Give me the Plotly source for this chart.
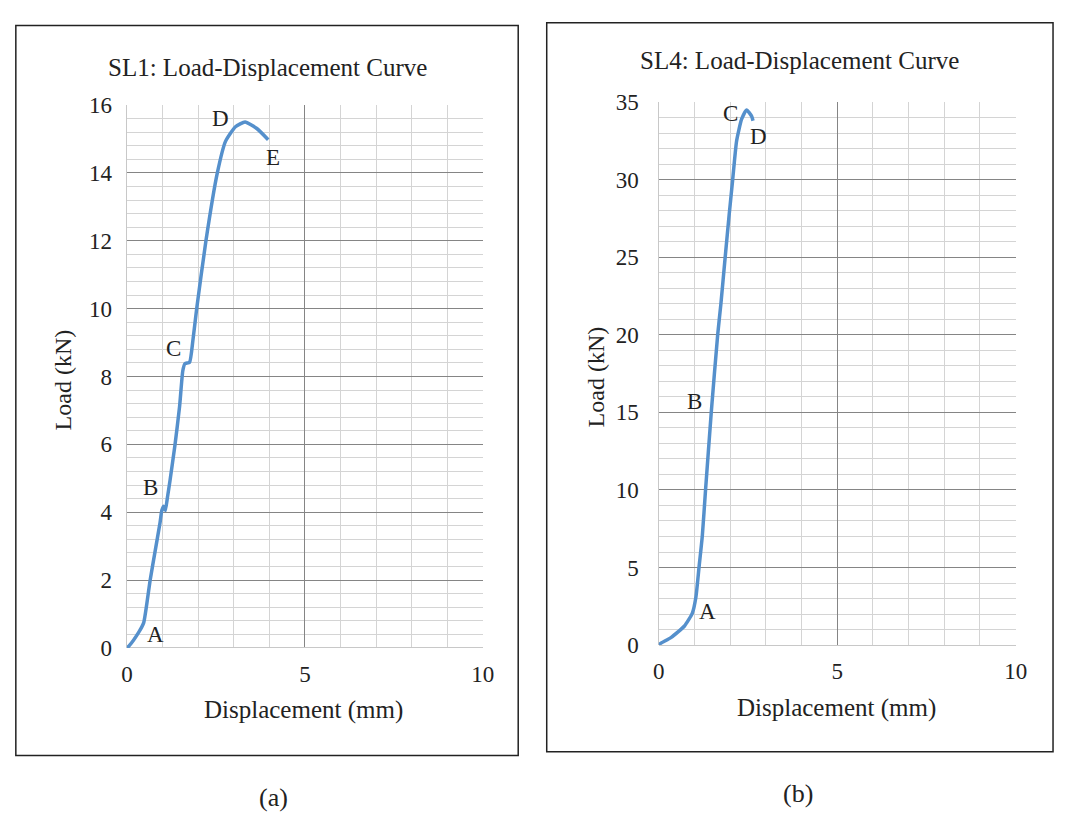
import plotly.graph_objects as go

# SL1 specimen: displacement (mm) vs load (kN)
sl1_disp = [0, 0.06, 0.33, 0.47, 0.56, 0.65, 0.79, 0.93, 0.98, 1.03, 1.08, 1.14,
            1.21, 1.35, 1.48, 1.57, 1.63, 1.76, 1.85, 1.96, 2.22, 2.54, 2.77,
            3.05, 3.32, 3.65, 3.97]
sl1_load = [0, 0.06, 0.46, 0.74, 1.31, 1.98, 2.84, 3.69, 4.05, 4.18, 4.05, 4.45,
            4.93, 5.98, 7.12, 8.17, 8.38, 8.42, 9.03, 10.0, 12.0, 14.0, 14.93,
            15.36, 15.5, 15.31, 14.98]

# SL4 specimen
sl4_disp = [0, 0.03, 0.35, 0.72, 0.94, 1.04, 1.13, 1.22, 1.31, 1.47, 1.65, 1.74,
            1.86, 1.97, 2.07, 2.18, 2.32, 2.46, 2.6, 2.64]
sl4_load = [0, 0.08, 0.5, 1.23, 2.06, 3.1, 5.08, 7.06, 10.0, 15.0, 20.0, 22.0,
            25.0, 27.7, 30.0, 32.5, 33.9, 34.5, 34.1, 33.8]

# point labels (text, x, y) in data units
sl1_points = [("O", -0.19, -0.14), ("A", 0.8, 0.4), ("B", 0.65, 4.74),
              ("C", 1.30, 8.84), ("D", 2.63, 15.6), ("E", 4.11, 14.46)]
sl4_points = [("O", -0.25, -0.44), ("A", 1.36, 2.17), ("B", 0.99, 15.7),
              ("C", 2.0, 34.25), ("D", 2.78, 32.8)]

W, H = 1067, 819  # design canvas used for paper fractions
SERIF = "Liberation Serif"
INK = "#222222"
LINE = "#5590cc"
MAJOR = "#858585"
MINOR = "#d4d4d4"

fig = go.Figure()
fig.add_trace(go.Scatter(x=sl1_disp, y=sl1_load, mode="lines",
                         line=dict(color=LINE, width=3.5, shape="spline", smoothing=0.5),
                         xaxis="x", yaxis="y", showlegend=False))
fig.add_trace(go.Scatter(x=sl4_disp, y=sl4_load, mode="lines",
                         line=dict(color=LINE, width=3.5, shape="spline", smoothing=0.5),
                         xaxis="x2", yaxis="y2", showlegend=False))


def xax(domain, anchor):
    return dict(domain=domain, anchor=anchor, range=[0, 10], dtick=5, tick0=0,
                showgrid=True, gridcolor=MAJOR, gridwidth=1,
                minor=dict(dtick=1, showgrid=True, gridcolor=MINOR, gridwidth=1),
                zeroline=True, zerolinecolor="#c8c8c8", zerolinewidth=1,
                showline=False, ticks="", ticklabelstandoff=10,
                tickfont=dict(family=SERIF, size=23, color=INK),
                fixedrange=True)


def yax(domain, anchor, top, major, minor, standoff):
    return dict(domain=domain, anchor=anchor, range=[0, top], dtick=major, tick0=0,
                showgrid=True, gridcolor=MAJOR, gridwidth=1,
                minor=dict(dtick=minor, showgrid=True, gridcolor=MINOR, gridwidth=1),
                zeroline=True, zerolinecolor="#c8c8c8", zerolinewidth=1,
                showline=False, ticks="", ticklabelstandoff=standoff,
                tickfont=dict(family=SERIF, size=23, color=INK),
                fixedrange=True)


fig.update_layout(
    autosize=True,
    margin=dict(l=0, r=0, t=0, b=0, pad=0),
    paper_bgcolor="white", plot_bgcolor="white",
    xaxis=xax([123 / W, 485 / W], "y"),
    yaxis=yax([1 - 656 / H, 1 - 96 / H], "x", 16, 2, 0.4, 14),
    xaxis2=xax([664 / W, 1027 / W], "y2"),
    yaxis2=yax([1 - 653 / H, 1 - 93 / H], "x2", 35, 5, 1, 19),
)

annotations = []


def paper_text(text, px, py, size, angle=0):
    annotations.append(dict(text=text, x=px / W, y=1 - py / H, xref="paper", yref="paper",
                            showarrow=False, textangle=angle, xanchor="center",
                            yanchor="middle", font=dict(family=SERIF, size=size, color=INK)))


# chart titles and axis titles
paper_text("SL1: Load-Displacement Curve", 266, 57, 25)
paper_text("SL4: Load-Displacement Curve", 807, 50, 25)
paper_text("Displacement (mm)", 303, 720, 25)
paper_text("Displacement (mm)", 845, 718, 25)
paper_text("Load (kN)", 58, 380, 24, -90)
paper_text("Load (kN)", 600, 376, 24, -90)
paper_text("(a)", 272, 810, 26)
paper_text("(b)", 806, 806, 26)

for name, x, y in sl1_points:
    annotations.append(dict(text=name, x=x, y=y, xref="x", yref="y", showarrow=False,
                            font=dict(family=SERIF, size=23, color=INK)))
for name, x, y in sl4_points:
    annotations.append(dict(text=name, x=x, y=y, xref="x2", yref="y2", showarrow=False,
                            font=dict(family=SERIF, size=23, color=INK)))

fig.update_layout(annotations=annotations)

# outer frames around each chart
shapes = []
for x0, y0, x1, y1 in [(10, 14, 521, 767), (550, 11, 1065, 763)]:
    shapes.append(dict(type="rect", xref="paper", yref="paper",
                       x0=x0 / W, x1=x1 / W, y0=1 - y1 / H, y1=1 - y0 / H,
                       line=dict(color=INK, width=1.5), layer="above"))
fig.update_layout(shapes=shapes)

# figure fills the viewport exactly: no body margin, no scrollbars
fig.write_html(
    "out.html",
    default_width="100vw",
    default_height="100vh",
    config={"responsive": True},
    post_script=(
        "document.documentElement.style.margin='0';"
        "document.body.style.margin='0';"
        "document.documentElement.style.overflow='hidden';"
        "document.body.style.overflow='hidden';"
        "Plotly.Plots.resize(document.getElementById('{plot_id}'));"
    ),
)
